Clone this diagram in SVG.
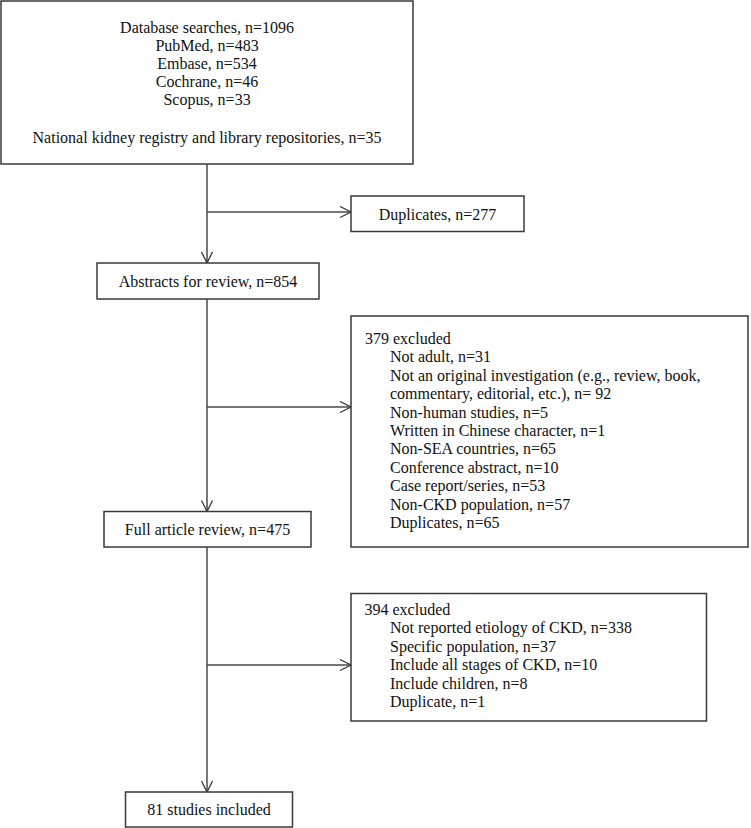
<svg xmlns="http://www.w3.org/2000/svg" width="751" height="828" viewBox="0 0 751 828">
<style>
.box{fill:#fff;stroke:#3a3a3a;stroke-width:1.5}
.t{font-family:"Liberation Serif","Times New Roman",serif;font-size:16px;fill:#111}
.c{text-anchor:middle}
.ln{fill:none;stroke:#4a4a4a;stroke-width:1.5}
</style>
<defs>
<marker id="ah" markerUnits="userSpaceOnUse" markerWidth="14" markerHeight="14" refX="12" refY="6" orient="auto">
<path d="M1,0.5 L12,6 L1,11.5" fill="none" stroke="#3a3a3a" stroke-width="1.3"/>
</marker>
</defs>
<rect width="751" height="828" fill="#fff"/>
<g id="connectors">
<line class="ln" x1="207" y1="164" x2="207" y2="263" marker-end="url(#ah)"/>
<line class="ln" x1="207" y1="212" x2="351" y2="212" marker-end="url(#ah)"/>
<line class="ln" x1="207" y1="299" x2="207" y2="511.5" marker-end="url(#ah)"/>
<line class="ln" x1="207" y1="407" x2="351" y2="407" marker-end="url(#ah)"/>
<line class="ln" x1="207" y1="547" x2="207" y2="792" marker-end="url(#ah)"/>
<line class="ln" x1="207" y1="665" x2="351" y2="665" marker-end="url(#ah)"/>
</g>
<g id="n-database">
<rect class="box" x="1" y="1" width="412" height="163"/>
<text class="t c" x="207" y="33">Database searches, n=1096</text>
<text class="t c" x="207" y="51">PubMed, n=483</text>
<text class="t c" x="207" y="69">Embase, n=534</text>
<text class="t c" x="207" y="87">Cochrane, n=46</text>
<text class="t c" x="207" y="105">Scopus, n=33</text>
<text class="t c" x="207" y="143">National kidney registry and library repositories, n=35</text>
</g>
<g id="n-duplicates">
<rect class="box" x="351" y="196" width="173" height="35.5"/>
<text class="t c" x="437.5" y="219.5">Duplicates, n=277</text>
</g>
<g id="n-abstracts">
<rect class="box" x="97" y="263" width="222" height="36"/>
<text class="t c" x="208" y="286.5">Abstracts for review, n=854</text>
</g>
<g id="n-excluded1">
<rect class="box" x="351" y="316" width="397" height="231"/>
<text class="t" x="365" y="344">379 excluded</text>
<text class="t" x="390" y="362.4">Not adult, n=31</text>
<text class="t" x="390" y="380.8">Not an original investigation (e.g., review, book,</text>
<text class="t" x="390" y="399.2">commentary, editorial, etc.), n= 92</text>
<text class="t" x="390" y="417.6">Non-human studies, n=5</text>
<text class="t" x="390" y="436">Written in Chinese character, n=1</text>
<text class="t" x="390" y="454.4">Non-SEA countries, n=65</text>
<text class="t" x="390" y="472.8">Conference abstract, n=10</text>
<text class="t" x="390" y="491.2">Case report/series, n=53</text>
<text class="t" x="390" y="509.6">Non-CKD population, n=57</text>
<text class="t" x="390" y="528">Duplicates, n=65</text>
</g>
<g id="n-fullarticle">
<rect class="box" x="104" y="511.5" width="207" height="35.5"/>
<text class="t c" x="207.5" y="534.5">Full article review, n=475</text>
</g>
<g id="n-excluded2">
<rect class="box" x="351" y="593.5" width="355.5" height="127.5"/>
<text class="t" x="364.5" y="615">394 excluded</text>
<text class="t" x="390" y="633.4">Not reported etiology of CKD, n=338</text>
<text class="t" x="390" y="651.8">Specific population, n=37</text>
<text class="t" x="390" y="670.2">Include all stages of CKD, n=10</text>
<text class="t" x="390" y="688.6">Include children, n=8</text>
<text class="t" x="390" y="707">Duplicate, n=1</text>
</g>
<g id="n-included">
<rect class="box" x="125.5" y="792" width="167" height="35"/>
<text class="t c" x="209" y="815">81 studies included</text>
</g>
</svg>
